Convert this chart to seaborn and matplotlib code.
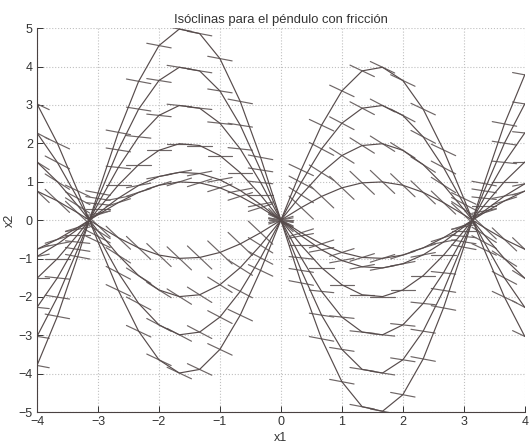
import numpy as np
import pandas as pd
import seaborn as sns
import matplotlib.pyplot as plt

# isoclinas x2 = -a*sin(x1), pendiente de los trazos s en cada una
amplitudes = [5, 4, 3, 2, 1.25, 1, -1, -2, -3, -4]
pendientes = [-0.3, -0.25, -0.167, 0, 0.3, 0.5, -1.5, -1, -0.833, -0.75]
x1_puntos = np.linspace(-4, 4, 25)
xticks = [-4, -3, -2, -1, 0, 1, 2, 3, 4]
yticks = [-5, -4, -3, -2, -1, 0, 1, 2, 3, 4, 5]

curvas = []
trazos = []
dx = 0.2
for i, (a, s) in enumerate(zip(amplitudes, pendientes)):
    x2 = -a * np.sin(x1_puntos)
    curvas.append(pd.DataFrame({'x1': x1_puntos, 'x2': x2, 'curva': i}))
    for j, (xc, yc) in enumerate(zip(x1_puntos, x2)):
        trazos.append(pd.DataFrame({'x1': [xc - dx, xc + dx],
                                    'x2': [yc - s * dx, yc + s * dx],
                                    'trazo': i * 100 + j}))
curvas = pd.concat(curvas, ignore_index=True)
trazos = pd.concat(trazos, ignore_index=True)

sns.set_style('white')
plt.rcParams['font.family'] = ['Liberation Sans', 'DejaVu Sans']

fig = plt.figure(figsize=(5.29, 4.47), dpi=100)
ax = fig.add_axes([0.070, 0.078, 0.922, 0.859])

sns.lineplot(data=trazos, x='x1', y='x2', units='trazo', estimator=None,
             sort=False, color='#6e6666', lw=0.85, ax=ax)
sns.lineplot(data=curvas, x='x1', y='x2', units='curva', estimator=None,
             sort=False, color='#574c4c', lw=0.85, ax=ax)

ax.set_xlim(-4, 4)
ax.set_ylim(-5, 5)
ax.set_xticks(xticks)
ax.set_yticks(yticks)
ax.grid(True, ls=':', color='#c0c0c0', lw=0.8)
for side in ['top', 'right']:
    ax.spines[side].set_visible(False)
for side in ['left', 'bottom']:
    ax.spines[side].set_color('#4a4242')
    ax.spines[side].set_linewidth(0.8)
ax.tick_params(direction='in', length=4, width=0.7, colors='#333333',
               labelsize=9, pad=3, left=True, bottom=True)
ax.set_xlabel('x1', fontsize=9, labelpad=3, color='#333333')
ax.set_ylabel('x2', fontsize=9, labelpad=2, color='#333333')
ax.set_title('Isóclinas para el péndulo con fricción', fontsize=9.4, pad=4,
             color='#333333')

plt.savefig('out.png', dpi=100)
